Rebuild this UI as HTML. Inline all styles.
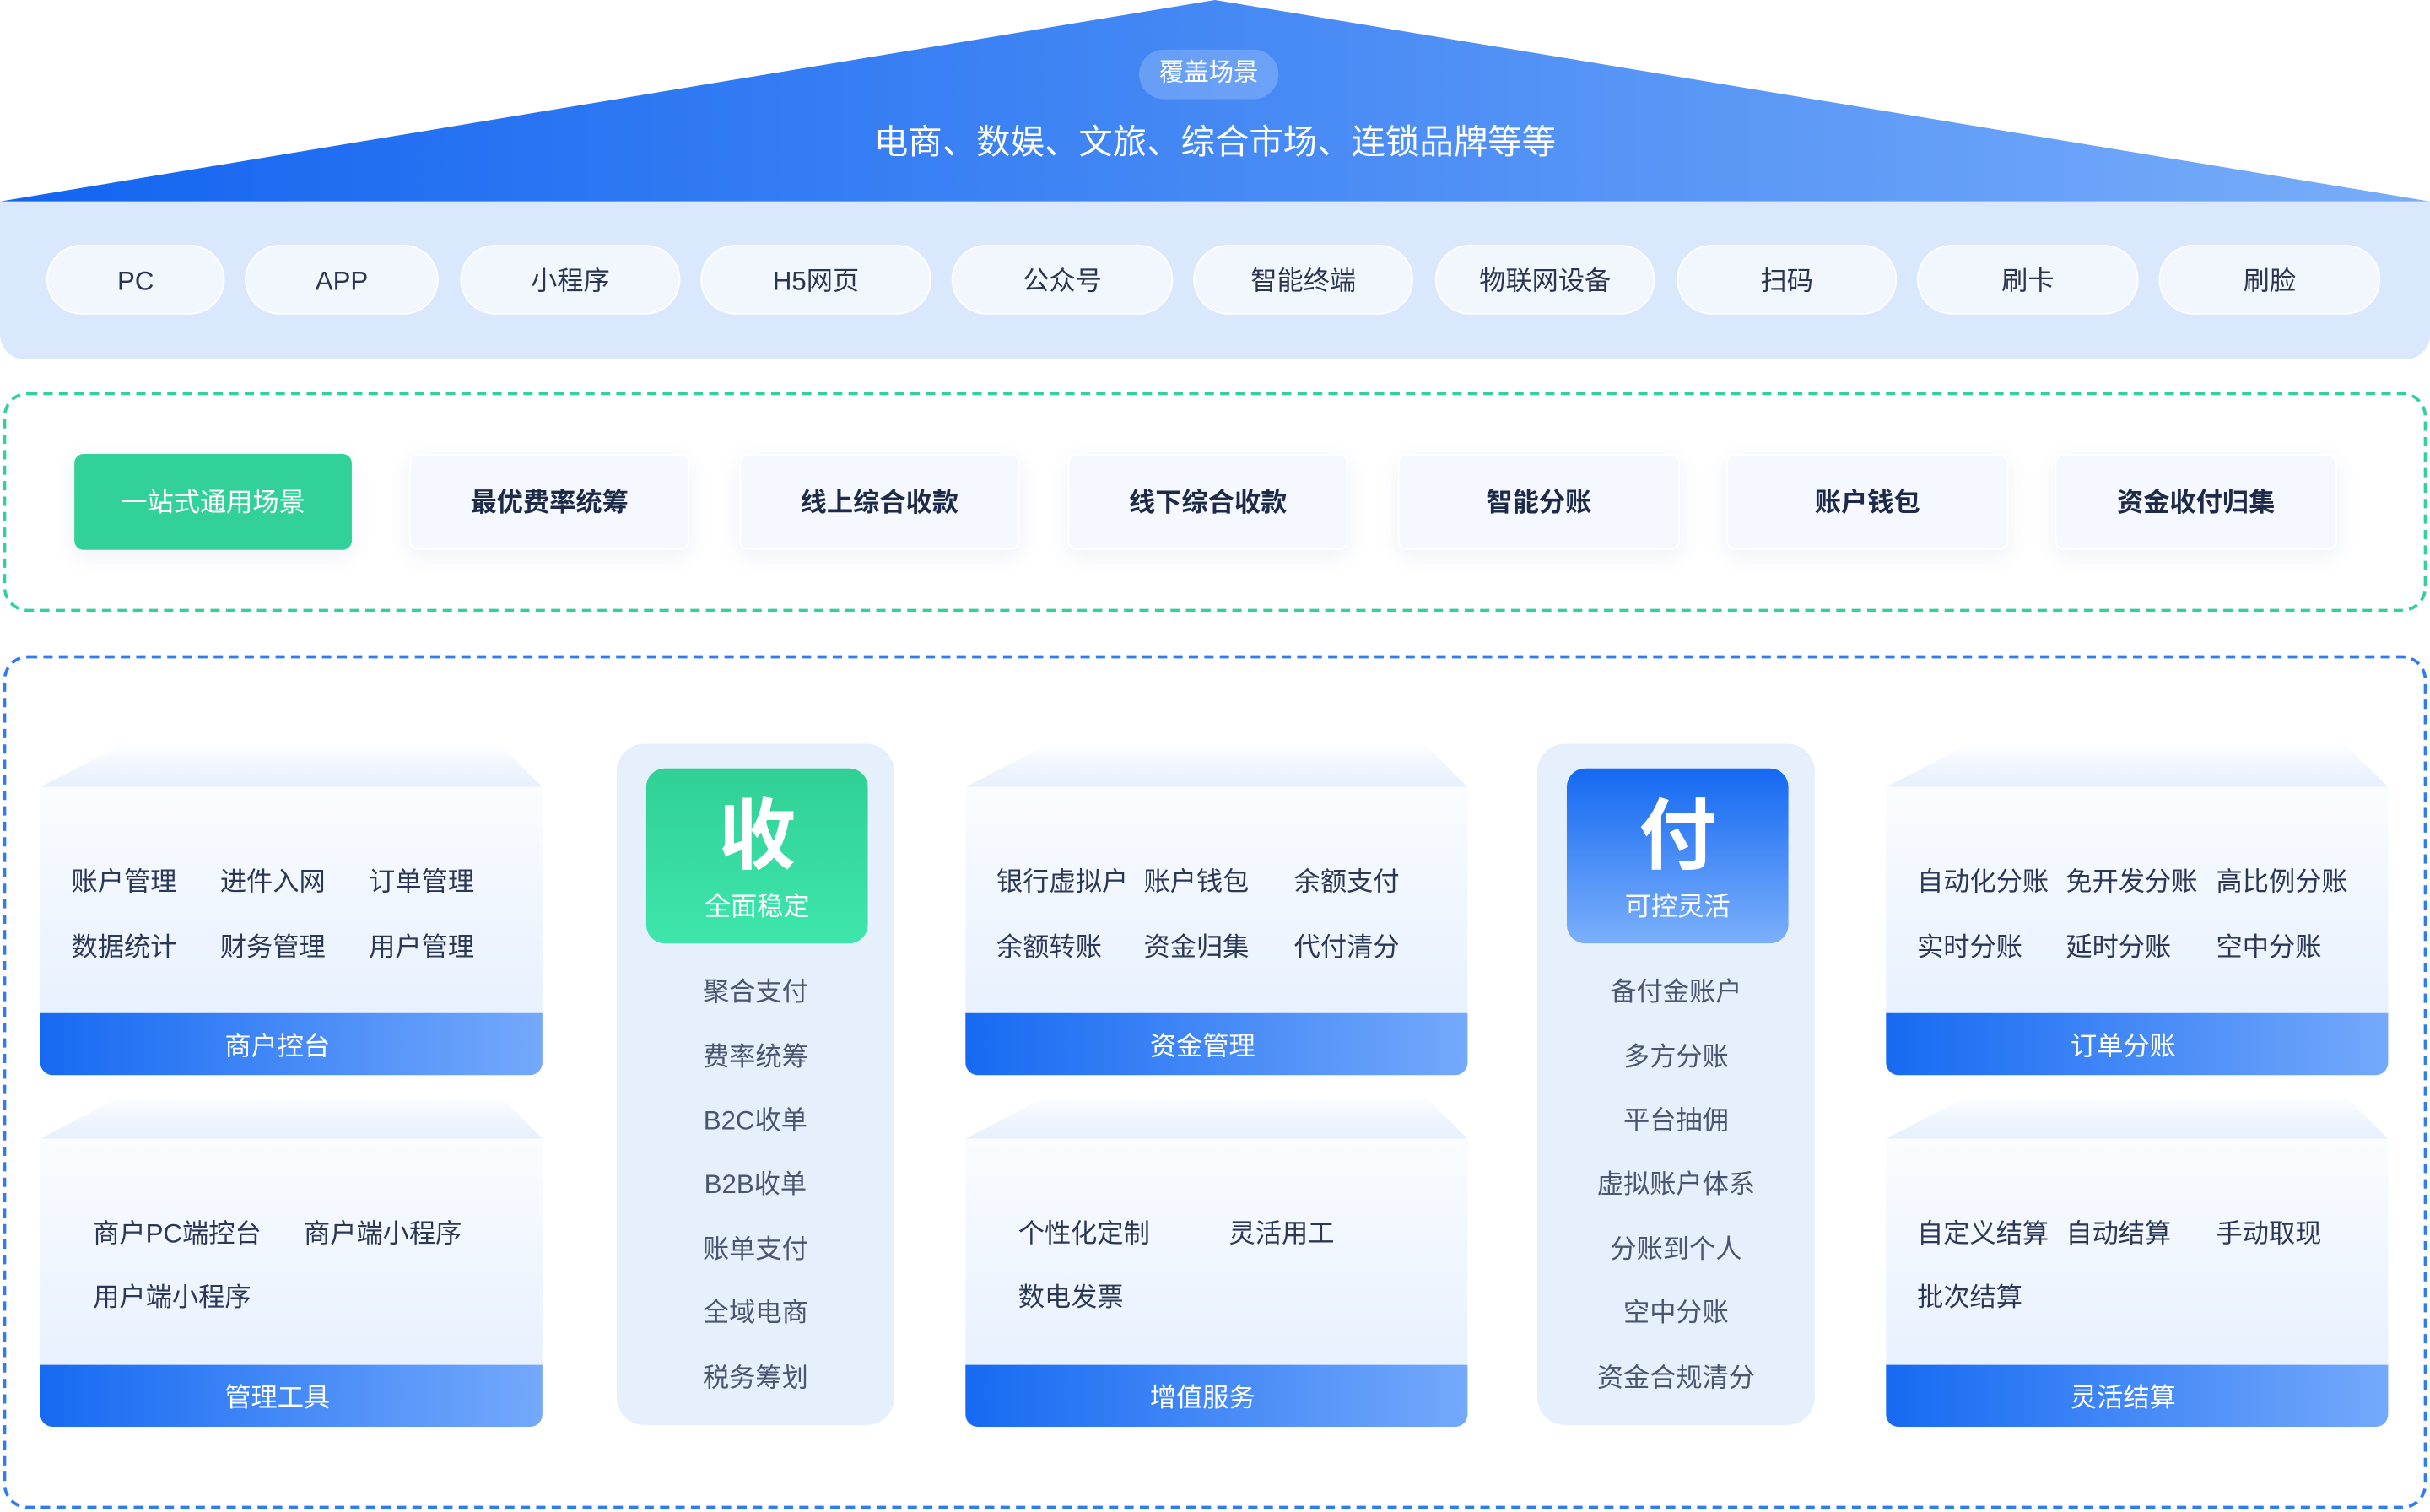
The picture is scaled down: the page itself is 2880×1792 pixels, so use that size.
<!DOCTYPE html>
<html><head><meta charset="utf-8">
<style>
*{margin:0;padding:0;box-sizing:border-box}
html,body{width:2880px;height:1792px;overflow:hidden;background:#fff}
#w{position:absolute;left:0;top:0;width:1568px;height:976px;transform:scale(1.83673,1.83607);transform-origin:0 0;font-family:"Liberation Sans","Noto Sans CJK SC",sans-serif;color:#2a3756}
.a{position:absolute}
.t{position:absolute;height:24px;line-height:24px;font-size:17px;white-space:nowrap;color:#2a3756;margin-top:2px}
.pill{position:absolute;top:158px;height:45px;border-radius:23px;background:#f2f7fe;border:1.5px solid #fff;text-align:center;line-height:45px;font-size:17px;color:#2a3550}
.card{position:absolute;top:293px;height:62px;border-radius:6px;background:#f5f8fe;border:1.5px solid #fff;box-shadow:0 4px 14px rgba(40,80,140,0.08);text-align:center;line-height:62px;font-size:17px;font-weight:bold;color:#1d2a4a}
.blk{position:absolute;width:324px}
.blk .top{position:absolute;left:0;top:0;width:324px;height:26px;background:linear-gradient(#fbfdff,#e6effc);clip-path:polygon(50px 0,298px 0,324px 26px,0 26px)}
.blk .body{position:absolute;left:0;top:26px;width:324px;height:146px;background:linear-gradient(#fafcff,#e8f1fe)}
.blk .foot{position:absolute;left:0;top:172px;width:324px;height:40px;padding-right:18px;border-radius:0 0 8px 8px;background:linear-gradient(90deg,#166af2,#74a9fb);color:#fff;text-align:center;line-height:43px;font-size:17px}
.col{position:absolute;top:480px;width:179px;height:440px;border-radius:18px;background:#e6f0fd}
.col .box{position:absolute;left:19px;top:16px;width:143px;height:113px;border-radius:12px;color:#fff;text-align:center}
.col .big{position:absolute;left:0;right:0;top:16px;font-size:50px;font-weight:bold;line-height:56px}
.col .sub{position:absolute;left:0;right:0;top:78px;font-size:17px;line-height:24px}
.col .li{position:absolute;left:0;right:0;text-align:center;font-size:17px;line-height:24px;color:#4a5570;margin-top:2px}
</style></head><body><div id="w">
<svg class="a" style="left:0;top:0" width="1568" height="132"><defs><linearGradient id="g" x1="0" x2="1"><stop offset="0" stop-color="#1264f0"/><stop offset="1" stop-color="#78adf9"/></linearGradient></defs><polygon points="784,0 1568,130 0,130" fill="url(#g)"/></svg>
<div class="a" style="left:735px;top:32px;width:90px;height:32px;border-radius:16px;background:rgba(255,255,255,0.2);color:#fff;font-size:16px;line-height:32px;text-align:center">覆盖场景</div>
<div class="a" style="left:384px;top:78px;width:800px;text-align:center;color:#fff;font-size:22px;line-height:28px">电商、数娱、文旅、综合市场、连锁品牌等等</div>
<div class="a" style="left:0;top:130px;width:1568px;height:102px;background:#dae8fd;border-radius:0 0 16px 16px"></div>
<div class="pill" style="left:30px;width:115px">PC</div>
<div class="pill" style="left:158px;width:125px">APP</div>
<div class="pill" style="left:297px;width:142px">小程序</div>
<div class="pill" style="left:452px;width:149px">H5网页</div>
<div class="pill" style="left:614px;width:143px">公众号</div>
<div class="pill" style="left:770px;width:142px">智能终端</div>
<div class="pill" style="left:926px;width:142px">物联网设备</div>
<div class="pill" style="left:1082px;width:142px">扫码</div>
<div class="pill" style="left:1237px;width:143px">刷卡</div>
<div class="pill" style="left:1393px;width:143px">刷脸</div>
<div class="a" style="left:2px;top:253px;width:1564px;height:142px;border:2px dashed #33d19a;border-radius:16px"></div>
<div class="card" style="left:48px;width:179px;background:#33d19a;color:#fff;border-color:#33d19a;font-weight:normal">一站式通用场景</div>
<div class="card" style="left:264px;width:181px">最优费率统筹</div>
<div class="card" style="left:477px;width:181px">线上综合收款</div>
<div class="card" style="left:689px;width:181px">线下综合收款</div>
<div class="card" style="left:902px;width:182px">智能分账</div>
<div class="card" style="left:1114px;width:182px">账户钱包</div>
<div class="card" style="left:1326px;width:182px">资金收付归集</div>
<div class="a" style="left:2px;top:423px;width:1564px;height:551px;border:2px dashed #2f7bf0;border-radius:16px"></div>

<div class="blk" style="left:26px;top:482px"><div class="top"></div><div class="body"></div><div class="foot">商户控台</div></div>
<div class="blk" style="left:26px;top:709px"><div class="top"></div><div class="body"></div><div class="foot">管理工具</div></div>
<div class="blk" style="left:623px;top:482px"><div class="top"></div><div class="body"></div><div class="foot">资金管理</div></div>
<div class="blk" style="left:623px;top:709px"><div class="top"></div><div class="body"></div><div class="foot">增值服务</div></div>
<div class="blk" style="left:1217px;top:482px"><div class="top"></div><div class="body"></div><div class="foot">订单分账</div></div>
<div class="blk" style="left:1217px;top:709px"><div class="top"></div><div class="body"></div><div class="foot">灵活结算</div></div>

<div class="t" style="left:46px;top:556px">账户管理</div><div class="t" style="left:142px;top:556px">进件入网</div><div class="t" style="left:238px;top:556px">订单管理</div>
<div class="t" style="left:46px;top:598px">数据统计</div><div class="t" style="left:142px;top:598px">财务管理</div><div class="t" style="left:238px;top:598px">用户管理</div>
<div class="t" style="left:60px;top:783px">商户PC端控台</div><div class="t" style="left:196px;top:783px">商户端小程序</div>
<div class="t" style="left:60px;top:824px">用户端小程序</div>
<div class="t" style="left:643px;top:556px">银行虚拟户</div><div class="t" style="left:738px;top:556px">账户钱包</div><div class="t" style="left:835px;top:556px">余额支付</div>
<div class="t" style="left:643px;top:598px">余额转账</div><div class="t" style="left:738px;top:598px">资金归集</div><div class="t" style="left:835px;top:598px">代付清分</div>
<div class="t" style="left:657px;top:783px">个性化定制</div><div class="t" style="left:793px;top:783px">灵活用工</div>
<div class="t" style="left:657px;top:824px">数电发票</div>
<div class="t" style="left:1237px;top:556px">自动化分账</div><div class="t" style="left:1333px;top:556px">免开发分账</div><div class="t" style="left:1430px;top:556px">高比例分账</div>
<div class="t" style="left:1237px;top:598px">实时分账</div><div class="t" style="left:1333px;top:598px">延时分账</div><div class="t" style="left:1430px;top:598px">空中分账</div>
<div class="t" style="left:1237px;top:783px">自定义结算</div><div class="t" style="left:1333px;top:783px">自动结算</div><div class="t" style="left:1430px;top:783px">手动取现</div>
<div class="t" style="left:1237px;top:824px">批次结算</div>

<div class="col" style="left:398px"><div class="box" style="background:linear-gradient(#30d095,#3ee6ac)"><div class="big">收</div><div class="sub">全面稳定</div></div>
<div class="li" style="top:147px">聚合支付</div><div class="li" style="top:189px">费率统筹</div><div class="li" style="top:230px">B2C收单</div><div class="li" style="top:271px">B2B收单</div><div class="li" style="top:313px">账单支付</div><div class="li" style="top:354px">全域电商</div><div class="li" style="top:396px">税务筹划</div></div>
<div class="col" style="left:992px"><div class="box" style="background:linear-gradient(#1468f2,#7bb0fb)"><div class="big">付</div><div class="sub">可控灵活</div></div>
<div class="li" style="top:147px">备付金账户</div><div class="li" style="top:189px">多方分账</div><div class="li" style="top:230px">平台抽佣</div><div class="li" style="top:271px">虚拟账户体系</div><div class="li" style="top:313px">分账到个人</div><div class="li" style="top:354px">空中分账</div><div class="li" style="top:396px">资金合规清分</div></div>
</div></body></html>
